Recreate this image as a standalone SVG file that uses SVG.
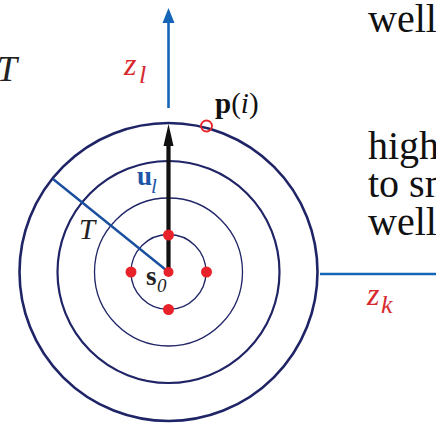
<svg xmlns="http://www.w3.org/2000/svg" width="436" height="423" viewBox="0 0 436 423">
<defs>
<style>
.ring{fill:none;stroke:#1f2466}
.dot{fill:#e8222a}
text{font-family:"Liberation Serif","DejaVu Serif",serif}
.it{font-style:italic}
.bd{font-weight:bold}
.red{fill:#d7282e}
.blue{fill:#1d55a8}
.body{font-size:40px;fill:#111}
</style>
</defs>
<rect width="436" height="423" fill="#fff"/>

<g id="rings">
<circle class="ring" cx="168.5" cy="272" r="149" stroke-width="2.6"/>
<circle class="ring" cx="168.5" cy="272" r="111" stroke-width="2.2"/>
<circle class="ring" cx="168.5" cy="272" r="74" stroke-width="1.3"/>
<circle class="ring" cx="168.5" cy="272" r="37.5" stroke-width="1.3"/>
</g>

<g id="connectors">
<line x1="168.5" y1="108" x2="168.5" y2="22" stroke="#1464b8" stroke-width="2.6"/>
<path d="M168.5,8 L174.5,23 L162.5,23 Z" fill="#1464b8"/>
<line x1="320" y1="274" x2="436" y2="274" stroke="#1464b8" stroke-width="2.6"/>
<line x1="168.5" y1="272" x2="53" y2="179" stroke="#1a4fa0" stroke-width="2.4"/>
<line x1="168.5" y1="272" x2="168.5" y2="144" stroke="#111" stroke-width="4.2"/>
<path d="M168.5,124 L173.5,146 L163.5,146 Z" fill="#111"/>
</g>

<g id="points">
<circle class="dot" cx="168.5" cy="235" r="5.5"/>
<circle class="dot" cx="131" cy="272" r="5.5"/>
<circle class="dot" cx="206.5" cy="272" r="5.5"/>
<circle class="dot" cx="168.5" cy="309.5" r="5.5"/>
<circle class="dot" cx="168.5" cy="272" r="5"/>
<circle cx="206.5" cy="126" r="5.5" fill="none" stroke="#e8222a" stroke-width="1.8"/>
</g>

<g id="labels">
<text class="it" x="-3" y="81" font-size="36" fill="#222">T</text>
<text class="it red" x="124" y="75" font-size="32">z</text>
<text class="it red" x="139" y="83" font-size="26">l</text>
<text x="215" y="113" font-size="29" fill="#111"><tspan class="bd">p</tspan>(<tspan class="it">i</tspan>)</text>
<text class="bd blue" x="137" y="185" font-size="27">u</text>
<text class="it blue" x="151" y="193" font-size="21">l</text>
<text class="it" x="79" y="239" font-size="29" fill="#222">T</text>
<text class="bd" x="146" y="285" font-size="27" fill="#222">s</text>
<text class="it" x="157" y="292" font-size="19" fill="#222">0</text>
<text class="it red" x="367" y="305" font-size="32">z</text>
<text class="it red" x="381" y="313" font-size="26">k</text>
</g>

<g id="bodytext">
<text class="body" x="368" y="32">well</text>
<text class="body" x="368" y="159">high</text>
<text class="body" x="368" y="197">to sm</text>
<text class="body" x="368" y="235">well</text>
</g>
</svg>
